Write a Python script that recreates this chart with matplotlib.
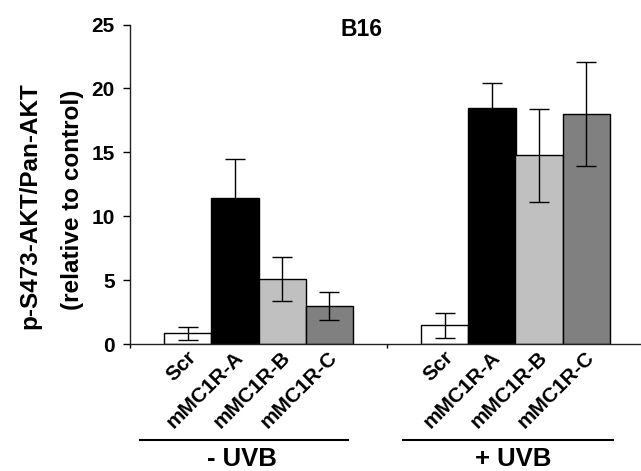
import matplotlib
matplotlib.use("Agg")
import matplotlib.pyplot as plt
import matplotlib.transforms as mtransforms
import numpy as np

plt.rcParams['font.family'] = ['Liberation Sans', 'DejaVu Sans']
plt.rcParams['font.weight'] = 'bold'

# data
groups = ["- UVB", "+ UVB"]
conditions = ["Scr", "mMC1R-A", "mMC1R-B", "mMC1R-C"]
minus_uvb = [0.85, 11.45, 5.1, 3.0]
minus_uvb_err = [0.5, 3.0, 1.7, 1.1]
plus_uvb = [1.45, 18.45, 14.75, 18.0]
plus_uvb_err = [1.0, 1.95, 3.6, 4.1]
colors = ["white", "black", "#c0c0c0", "#808080"]

W, H = 641, 471
fig = plt.figure(figsize=(W / 100, H / 100), dpi=100)
ax = fig.add_axes([130 / W, 1 - 344 / H, 514 / W, (344 - 24.5) / H])

width = 0.183
values = [minus_uvb, plus_uvb]
errs = [minus_uvb_err, plus_uvb_err]
centers = []
for g in range(len(groups)):
    for i in range(len(conditions)):
        x = g + 0.5 + (i - 1.5) * width
        centers.append(x)
        ax.bar(x, values[g][i], width, color=colors[i], edgecolor="black",
               linewidth=1, zorder=2)
        ax.errorbar(x, values[g][i], yerr=errs[g][i], fmt="none",
                    ecolor="black", elinewidth=1, capsize=7, capthick=1, zorder=3)

ax.set_xlim(0, 2)
ax.set_ylim(0, 25)
ax.set_yticks([0, 5, 10, 15, 20, 25])
ax.tick_params(axis="y", direction="out", length=5, width=1, pad=6, labelsize=15)
ax.set_xticks([0, 1, 2])
ax.set_xticklabels([])
ax.tick_params(axis="x", which="major", direction="out", length=3, width=1)

# rotated category labels, end of text just below each bar
trans = ax.get_xaxis_transform()
shift = mtransforms.ScaledTranslation(5 / 100, -10 / 100, fig.dpi_scale_trans)
for x, name in zip(centers, conditions * 2):
    ax.text(x, 0, name, transform=trans + shift, rotation=45, ha="right",
            va="center", rotation_mode="anchor", fontsize=15,
            fontweight="bold")
for lbl in ax.get_yticklabels():
    lbl.set_fontweight("bold")

for s in ["top", "right"]:
    ax.spines[s].set_visible(False)
for s in ["left", "bottom"]:
    ax.spines[s].set_linewidth(1)
    ax.spines[s].set_color("#202020")

# group brackets
ax.plot([0.039, 0.848], [-0.30, -0.30], color="black", lw=1.5,
        transform=trans, clip_on=False)
ax.plot([1.062, 1.879], [-0.30, -0.30], color="black", lw=1.5,
        transform=trans, clip_on=False)
ax.text(0.436, -0.36, groups[0], transform=trans, ha="center", va="center",
        fontsize=18.5, fontweight="bold")
ax.text(1.49, -0.36, groups[1], transform=trans, ha="center", va="center",
        fontsize=18.5, fontweight="bold")

fig.text(361 / W, 1 - 29 / H, "B16", ha="center", va="center",
         fontsize=16.5, fontweight="bold")
fig.text(30 / W, 1 - 206 / H, "p-S473-AKT/Pan-AKT", rotation=90,
         ha="center", va="center", fontsize=17.5, fontweight="bold")
fig.text(72 / W, 1 - 200 / H, "(relative to control)", rotation=90,
         ha="center", va="center", fontsize=17.5, fontweight="bold")

fig.savefig("out.png", dpi=100)
